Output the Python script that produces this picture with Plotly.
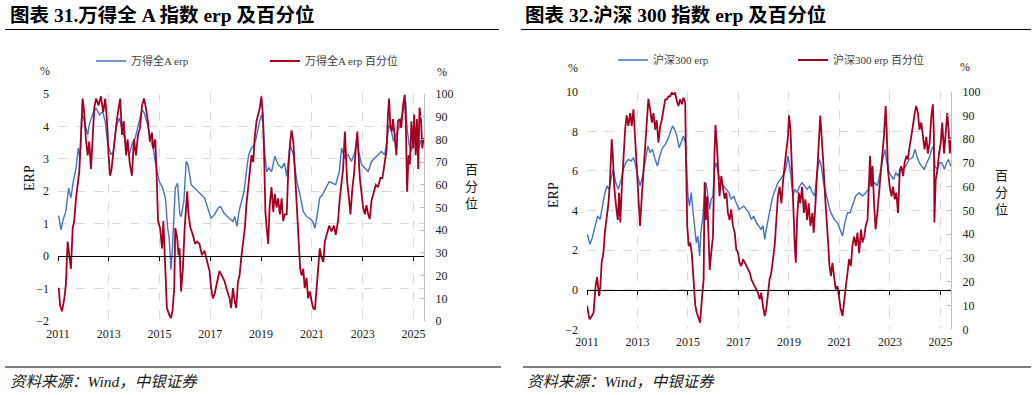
import plotly.graph_objects as go
import pandas as pd

W, H = 1036, 395

# ---------------- data (decimal year, value) ----------------
left_erp_t = [2011.00, 2011.03, 2011.08, 2011.12, 2011.20, 2011.31, 2011.42, 2011.51, 2011.60, 2011.71,
              2011.80, 2011.87, 2011.94, 2012.04, 2012.17, 2012.23, 2012.37, 2012.50, 2012.63, 2012.76,
              2012.86, 2012.96, 2013.09, 2013.18, 2013.28, 2013.41, 2013.52, 2013.61, 2013.70, 2013.81,
              2013.91, 2014.04, 2014.18, 2014.31, 2014.40, 2014.53, 2014.66, 2014.75, 2014.83, 2014.92,
              2014.99, 2015.12, 2015.23, 2015.32, 2015.38, 2015.45, 2015.51, 2015.62, 2015.71, 2015.80,
              2015.85, 2015.96, 2016.05, 2016.12, 2016.25, 2016.38, 2016.51, 2016.64, 2016.77, 2016.90,
              2017.03, 2017.17, 2017.30, 2017.40, 2017.54, 2017.67, 2017.80, 2017.89, 2017.96, 2018.05,
              2018.13, 2018.23, 2018.33, 2018.42, 2018.51, 2018.62, 2018.72, 2018.81, 2018.91, 2019.02,
              2019.08, 2019.15, 2019.22, 2019.31, 2019.41, 2019.54, 2019.67, 2019.81, 2019.92, 2020.01,
              2020.14, 2020.27, 2020.41, 2020.53, 2020.66, 2020.79, 2020.92, 2021.03, 2021.12, 2021.21,
              2021.31, 2021.42, 2021.55, 2021.68, 2021.81, 2021.94, 2022.08, 2022.17, 2022.30, 2022.43,
              2022.56, 2022.70, 2022.76, 2022.87, 2022.96, 2023.09, 2023.22, 2023.35, 2023.48, 2023.61,
              2023.74, 2023.87, 2023.96, 2024.04, 2024.13, 2024.22, 2024.33, 2024.43, 2024.52, 2024.62,
              2024.70, 2024.75, 2024.83, 2024.92, 2025.01, 2025.11, 2025.22, 2025.31, 2025.40]
left_erp_v = [1.25, 1.22, 1.00, 0.81, 1.12, 1.38, 2.10, 1.80, 2.30, 2.70,
              3.33, 3.00, 4.40, 4.15, 3.74, 4.05, 4.40, 4.57, 4.36, 4.46,
              4.15, 3.44, 3.13, 3.23, 3.95, 4.26, 3.95, 3.64, 3.38, 3.13,
              3.44, 3.64, 4.05, 4.52, 4.41, 4.05, 3.54, 3.33, 2.92, 2.50,
              2.30, 2.10, 1.80, 0.86, 0.56, -0.42, 0.25, 2.10, 2.25, 1.28,
              1.22, 1.70, 2.92, 2.82, 2.20, 2.10, 2.00, 1.90, 1.80, 1.48,
              1.17, 1.28, 1.48, 1.53, 1.33, 1.22, 1.12, 1.07, 1.22, 0.92,
              1.38, 1.70, 2.00, 2.60, 3.13, 3.33, 3.44, 3.64, 4.05, 4.36,
              4.15, 3.13, 2.60, 2.72, 2.60, 3.08, 2.82, 2.72, 2.87, 2.46,
              3.44, 3.13, 2.30, 1.90, 1.38, 1.22, 1.17, 1.07, 0.86, 1.28,
              1.80, 1.90, 2.10, 2.30, 2.25, 2.20, 2.60, 3.33, 3.02, 3.13,
              2.92, 3.23, 3.54, 3.13, 2.82, 2.72, 2.60, 2.92, 3.02, 3.13,
              3.23, 3.13, 3.54, 4.05, 3.85, 3.54, 3.74, 3.95, 4.26, 4.57,
              4.77, 3.95, 3.44, 3.23, 3.85, 3.95, 3.33, 3.64, 3.54]

left_pct_t = [2011.00, 2011.03, 2011.08, 2011.16, 2011.25, 2011.31, 2011.38, 2011.45, 2011.51, 2011.58,
              2011.64, 2011.71, 2011.77, 2011.84, 2011.90, 2011.97, 2012.04, 2012.10, 2012.17, 2012.23,
              2012.30, 2012.36, 2012.43, 2012.50, 2012.60, 2012.69, 2012.78, 2012.86, 2012.93, 2012.99,
              2013.05, 2013.11, 2013.22, 2013.31, 2013.39, 2013.45, 2013.52, 2013.59, 2013.68, 2013.74,
              2013.83, 2013.91, 2013.99, 2014.07, 2014.15, 2014.23, 2014.31, 2014.39, 2014.46, 2014.54,
              2014.62, 2014.70, 2014.75, 2014.83, 2014.88, 2014.94, 2015.02, 2015.10, 2015.15, 2015.20,
              2015.25, 2015.29, 2015.38, 2015.45, 2015.51, 2015.58, 2015.62, 2015.69, 2015.75, 2015.79,
              2015.85, 2015.92, 2015.99, 2016.05, 2016.09, 2016.14, 2016.22, 2016.31, 2016.40, 2016.48,
              2016.57, 2016.67, 2016.77, 2016.88, 2016.97, 2017.03, 2017.10, 2017.17, 2017.27, 2017.36,
              2017.45, 2017.56, 2017.67, 2017.76, 2017.82, 2017.89, 2017.96, 2018.02, 2018.09, 2018.15,
              2018.22, 2018.29, 2018.36, 2018.42, 2018.49, 2018.56, 2018.62, 2018.69, 2018.75, 2018.82,
              2018.88, 2018.95, 2019.01, 2019.07, 2019.12, 2019.17, 2019.22, 2019.28, 2019.34, 2019.41,
              2019.48, 2019.54, 2019.61, 2019.67, 2019.74, 2019.81, 2019.87, 2019.94, 2020.01, 2020.07,
              2020.14, 2020.20, 2020.27, 2020.33, 2020.40, 2020.47, 2020.54, 2020.60, 2020.66, 2020.72,
              2020.79, 2020.85, 2020.92, 2020.99, 2021.05, 2021.12, 2021.18, 2021.25, 2021.31, 2021.38,
              2021.45, 2021.51, 2021.58, 2021.68, 2021.78, 2021.87, 2021.94, 2022.03, 2022.10, 2022.17,
              2022.23, 2022.30, 2022.34, 2022.39, 2022.47, 2022.52, 2022.60, 2022.66, 2022.73, 2022.79,
              2022.84, 2022.89, 2022.96, 2023.02, 2023.09, 2023.15, 2023.22, 2023.28, 2023.35, 2023.41,
              2023.52, 2023.61, 2023.70, 2023.78, 2023.86, 2023.94, 2024.00, 2024.04, 2024.09, 2024.15,
              2024.20, 2024.26, 2024.33, 2024.39, 2024.46, 2024.52, 2024.59, 2024.66, 2024.70, 2024.75,
              2024.81, 2024.86, 2024.92, 2024.99, 2025.03, 2025.09, 2025.14, 2025.19, 2025.24, 2025.30,
              2025.35, 2025.40]
left_pct_v = [14, 14.5, 7, 4.3, 10, 16, 35, 29, 23, 41,
              44, 54, 60, 66, 80, 98, 91, 80, 73, 79,
              67, 80, 94, 98, 95, 99, 92, 98, 88, 73,
              64, 67, 80, 88, 94, 98, 82, 88, 73, 80,
              69, 64, 80, 73, 82, 85, 95, 98, 94, 88,
              79, 83, 76, 80, 66, 44, 41, 32, 44, 29,
              14.5, 5.7, 2.8, 1.3, 4.3, 14.5, 41, 37, 29, 32,
              13, 23, 41, 54, 57, 47, 41, 38, 34, 35,
              34, 29, 31, 26, 22, 14.5, 10, 12, 17.5, 22,
              20, 17.5, 13, 10, 5.7, 14.5, 8.7, 5.7, 17.5, 20,
              28, 35, 41, 51, 59, 66, 73, 70, 81, 88,
              91, 94, 99, 91, 73, 48, 41, 34, 51, 59,
              48, 56, 50, 54, 47, 54, 44, 47, 47, 66,
              78, 84, 79, 67, 54, 37, 23, 20, 23, 14.5,
              19, 10, 13, 8.7, 5.7, 5, 14.5, 26, 32, 28,
              26, 35, 38, 42, 39.5, 42, 38, 44, 54, 61.5,
              67, 83.5, 73, 61.5, 53, 47, 59, 64.5, 76, 83.5,
              73, 63, 56, 50, 47, 51, 47, 45, 53, 56,
              60, 59, 63, 63, 69, 75, 91, 98, 86.5, 83.5,
              89, 80.6, 73, 88, 89, 85, 95, 99.7, 88, 57,
              73, 69, 88, 76, 91, 73, 89, 67, 94, 88,
              76, 80.6]

right_erp_t = [2011.00, 2011.03, 2011.12, 2011.21, 2011.32, 2011.42, 2011.52, 2011.61, 2011.71, 2011.79,
               2011.87, 2011.95, 2012.04, 2012.14, 2012.24, 2012.35, 2012.44, 2012.53, 2012.64, 2012.75,
               2012.84, 2012.90, 2013.01, 2013.10, 2013.20, 2013.30, 2013.41, 2013.50, 2013.59, 2013.70,
               2013.79, 2013.88, 2013.99, 2014.10, 2014.20, 2014.29, 2014.39, 2014.47, 2014.56, 2014.65,
               2014.73, 2014.82, 2014.89, 2014.93, 2015.00, 2015.06, 2015.13, 2015.19, 2015.26, 2015.33,
               2015.39, 2015.44, 2015.46, 2015.51, 2015.58, 2015.66, 2015.72, 2015.79, 2015.86, 2015.92,
               2015.99, 2016.05, 2016.12, 2016.22, 2016.32, 2016.41, 2016.52, 2016.62, 2016.71, 2016.81,
               2016.91, 2017.02, 2017.11, 2017.21, 2017.31, 2017.41, 2017.51, 2017.60, 2017.71, 2017.81,
               2017.90, 2017.97, 2018.04, 2018.10, 2018.17, 2018.23, 2018.33, 2018.41, 2018.50, 2018.56,
               2018.66, 2018.74, 2018.83, 2018.90, 2018.96, 2019.03, 2019.10, 2019.16, 2019.23, 2019.32,
               2019.43, 2019.52, 2019.62, 2019.72, 2019.82, 2019.93, 2020.02, 2020.11, 2020.21, 2020.28,
               2020.37, 2020.48, 2020.58, 2020.66, 2020.79, 2020.92, 2021.03, 2021.12, 2021.21, 2021.32,
               2021.42, 2021.51, 2021.64, 2021.78, 2021.91, 2022.04, 2022.14, 2022.22, 2022.31, 2022.40,
               2022.50, 2022.61, 2022.70, 2022.80, 2022.88, 2022.97, 2023.06, 2023.14, 2023.23, 2023.32,
               2023.43, 2023.53, 2023.63, 2023.76, 2023.90, 2023.99, 2024.07, 2024.16, 2024.25, 2024.36,
               2024.46, 2024.56, 2024.65, 2024.73, 2024.78, 2024.86, 2024.96, 2025.05, 2025.16, 2025.24,
               2025.32, 2025.40, 2025.45]
right_erp_v = [2.80, 2.71, 2.29, 2.63, 3.20, 3.72, 3.55, 4.22, 4.90, 5.24,
               5.07, 5.57, 6.08, 5.40, 5.07, 5.57, 6.08, 6.41, 6.58, 6.50,
               6.67, 6.41, 5.74, 5.24, 5.74, 6.41, 7.26, 6.92, 7.09, 6.58,
               6.25, 6.75, 7.17, 7.34, 7.59, 7.93, 8.27, 8.10, 7.76, 7.17,
               7.42, 7.76, 7.42, 6.25, 4.73, 4.22, 4.90, 4.06, 3.22, 2.37,
               2.71, 2.04, 1.70, 2.88, 3.55, 4.90, 5.40, 4.73, 4.06, 4.56,
               4.73, 6.08, 6.41, 5.74, 5.40, 5.24, 5.07, 4.90, 4.56, 4.73,
               4.39, 4.06, 4.14, 4.22, 4.06, 3.89, 3.55, 3.72, 3.38, 3.22,
               3.05, 3.22, 2.54, 3.05, 3.55, 4.06, 4.56, 4.90, 5.24, 5.40,
               5.57, 5.74, 5.91, 6.25, 6.75, 6.25, 5.40, 4.73, 5.07, 4.90,
               5.24, 5.40, 5.24, 5.07, 5.24, 4.90, 4.73, 5.91, 6.58, 6.25,
               5.40, 4.73, 4.22, 3.89, 3.55, 3.38, 3.05, 2.71, 3.38, 3.89,
               3.89, 4.22, 4.73, 4.90, 4.73, 4.90, 5.07, 5.57, 5.24, 5.40,
               5.24, 5.91, 6.41, 7.09, 6.41, 5.91, 5.74, 5.57, 5.91, 5.74,
               6.08, 6.08, 6.25, 6.58, 6.67, 7.09, 6.75, 6.41, 6.25, 6.08,
               6.41, 6.67, 7.09, 7.26, 6.25, 6.08, 6.41, 6.41, 6.08, 6.41,
               6.58, 6.25, 6.33]

right_pct_t = [2011.00, 2011.03, 2011.10, 2011.19, 2011.26, 2011.34, 2011.40, 2011.48, 2011.53, 2011.58,
               2011.65, 2011.71, 2011.78, 2011.85, 2011.91, 2011.98, 2012.02, 2012.08, 2012.15, 2012.22,
               2012.27, 2012.32, 2012.38, 2012.44, 2012.51, 2012.57, 2012.64, 2012.71, 2012.77, 2012.84,
               2012.90, 2012.97, 2013.04, 2013.10, 2013.17, 2013.24, 2013.30, 2013.37, 2013.43, 2013.50,
               2013.57, 2013.63, 2013.70, 2013.76, 2013.83, 2013.90, 2013.96, 2014.03, 2014.10, 2014.16,
               2014.23, 2014.29, 2014.36, 2014.43, 2014.49, 2014.56, 2014.62, 2014.69, 2014.76, 2014.82,
               2014.89, 2014.93, 2014.97, 2015.03, 2015.09, 2015.15, 2015.22, 2015.29, 2015.35, 2015.42,
               2015.48, 2015.55, 2015.62, 2015.66, 2015.71, 2015.76, 2015.80, 2015.86, 2015.92, 2015.99,
               2016.05, 2016.09, 2016.14, 2016.20, 2016.25, 2016.32, 2016.38, 2016.45, 2016.52, 2016.58,
               2016.65, 2016.71, 2016.78, 2016.85, 2016.91, 2016.98, 2017.04, 2017.11, 2017.18, 2017.25,
               2017.31, 2017.38, 2017.45, 2017.51, 2017.58, 2017.64, 2017.71, 2017.77, 2017.84, 2017.90,
               2017.97, 2018.04, 2018.10, 2018.17, 2018.23, 2018.30, 2018.37, 2018.43, 2018.50, 2018.56,
               2018.63, 2018.70, 2018.77, 2018.83, 2018.90, 2018.96, 2019.00, 2019.06, 2019.11, 2019.16,
               2019.23, 2019.27, 2019.32, 2019.39, 2019.45, 2019.52, 2019.59, 2019.65, 2019.72, 2019.78,
               2019.85, 2019.93, 2019.98, 2020.05, 2020.12, 2020.19, 2020.24, 2020.30, 2020.36, 2020.43,
               2020.50, 2020.56, 2020.60, 2020.66, 2020.72, 2020.79, 2020.85, 2020.92, 2020.98, 2021.05,
               2021.12, 2021.18, 2021.25, 2021.32, 2021.38, 2021.45, 2021.51, 2021.58, 2021.65, 2021.71,
               2021.78, 2021.85, 2021.91, 2021.98, 2022.04, 2022.11, 2022.17, 2022.21, 2022.26, 2022.31,
               2022.37, 2022.43, 2022.50, 2022.56, 2022.63, 2022.70, 2022.76, 2022.83, 2022.87, 2022.92,
               2022.99, 2023.06, 2023.12, 2023.19, 2023.25, 2023.32, 2023.39, 2023.45, 2023.52, 2023.58,
               2023.65, 2023.71, 2023.78, 2023.85, 2023.91, 2023.98, 2024.04, 2024.11, 2024.17, 2024.24,
               2024.31, 2024.37, 2024.44, 2024.50, 2024.57, 2024.64, 2024.70, 2024.74, 2024.76, 2024.81,
               2024.88, 2024.94, 2025.01, 2025.07, 2025.14, 2025.20, 2025.27, 2025.32, 2025.37, 2025.43]
right_pct_v = [10, 8.4, 4.2, 5.6, 7, 18, 22, 14, 18, 28,
               32, 41, 46, 53, 62, 80, 74, 60, 52, 46,
               57.5, 45, 60, 74, 84, 90, 85.6, 91, 85.6, 92.6,
               81, 67, 53, 43.5, 56, 67, 81, 88, 97, 92.6,
               87, 91, 84, 88, 78.5, 85.6, 88, 92.6, 96.8, 96.8,
               98, 98, 99.6, 99, 99.6, 96, 94, 96.8, 94.7, 97.5,
               95.4, 67, 43.5, 35, 36.5, 32, 18, 10, 7, 4.2,
               2.8, 12.6, 21, 62, 46, 56, 43.5, 25, 32, 39,
               74, 86, 78.5, 63, 56, 64.5, 60, 55, 57.5, 49,
               46, 50.5, 43.5, 40.7, 33.7, 32.3, 28, 26.6, 29.5, 28,
               26.6, 25.2, 23.8, 21, 19.6, 18.2, 16.8, 15.4, 12.6, 15.4,
               9.8, 5.6, 8.4, 15.4, 21, 23.8, 29.5, 35, 46, 56,
               60, 53, 63, 70, 75.7, 81, 90, 84, 67, 49,
               35, 28, 46, 57.5, 53, 60, 49, 54.7, 46, 53,
               43.5, 49, 40.7, 53, 70, 80, 90, 81, 70, 56,
               46, 35, 27, 22.4, 28, 21, 16.8, 18.2, 12.6, 8.4,
               5.6, 12.6, 18, 24, 29.5, 26.6, 35, 39, 35, 40.7,
               32, 42, 36.5, 39, 43.5, 46, 60, 73, 60, 68.7,
               53, 42, 49, 57.5, 67, 74, 81, 94, 84, 67,
               60, 56, 60, 54.7, 57.5, 49, 67, 68.7, 64.5, 70,
               73, 71.5, 77, 81, 85.6, 91, 94, 91, 84, 87,
               80, 75.7, 81, 74, 78.5, 90, 94.7, 81, 45, 63,
               67, 74, 78.5, 87, 74, 81, 91, 84, 74, 81]

tick_years = [2011, 2013, 2015, 2017, 2019, 2021, 2023, 2025]
tick_labels = [str(y) for y in tick_years]

left_title = "图表 31.万得全 A 指数 erp 及百分位"
right_title = "图表 32.沪深 300 指数 erp 及百分位"
left_names = ["万得全A erp", "万得全A erp 百分位"]
right_names = ["沪深300 erp", "沪深300 erp 百分位"]
source_text = "资料来源：Wind，中银证券"

# ---------------- helpers ----------------
def to_dates(ts):
    out = []
    for t in ts:
        y = int(t)
        s = pd.Timestamp(year=y, month=1, day=1)
        e = pd.Timestamp(year=y + 1, month=1, day=1)
        out.append(s + (e - s) * (t - y))
    return out

def fx(px):
    return px / W

def fy(py):
    return 1 - py / H

BLUE = "#4472C4"
RED = "#A50021"
GRID = "#d9d9d9"
TXT = "#1a1a1a"
SERIF = "'Times New Roman', 'Liberation Serif', 'Noto Sans CJK SC', serif"

tickvals = [pd.Timestamp(year=y, month=1, day=1) for y in tick_years]
x_range = [pd.Timestamp("2011-01-01"), pd.Timestamp("2025-06-02")]

panels = [
    dict(px0=58, px1=424, ptop=94, pbot=321, ax="", ay=("", "2"), az="3",
         erp_t=left_erp_t, erp_v=left_erp_v, pct_t=left_pct_t, pct_v=left_pct_v,
         names=left_names, yr=[-2, 5], ydt=1, legs=("legend", "legend2"),
         leg_x=(131, 305), leg_y=61),
    dict(px0=587, px1=951, ptop=91.7, pbot=329.3, ax="2", ay=("3", "4"), az="4",
         erp_t=right_erp_t, erp_v=right_erp_v, pct_t=right_pct_t, pct_v=right_pct_v,
         names=right_names, yr=[-2, 10], ydt=2, legs=("legend3", "legend4"),
         leg_x=(653, 833), leg_y=60),
]

fig = go.Figure()
layout = dict(width=W, height=H, margin=dict(l=0, r=0, t=0, b=0),
              paper_bgcolor="white", plot_bgcolor="white",
              font=dict(family=SERIF, size=12, color=TXT), showlegend=True)

for p in panels:
    xd = [fx(p["px0"]), fx(p["px1"])]
    yd = [fy(p["pbot"]), fy(p["ptop"])]
    xa = "x" + p["ax"]
    ya1 = "y" + p["ay"][0]
    ya2 = "y" + p["ay"][1]
    xz = "x" + p["az"]
    xkey = "xaxis" + p["ax"]
    y1key = "yaxis" + p["ay"][0]
    y2key = "yaxis" + p["ay"][1]
    zkey = "xaxis" + p["az"]

    fig.add_trace(go.Scatter(x=to_dates(p["erp_t"]), y=p["erp_v"], name=p["names"][0], mode="lines",
                             line=dict(color=BLUE, width=1.4), xaxis=xa, yaxis=ya1,
                             legend=p["legs"][0], hoverinfo="skip"))
    fig.add_trace(go.Scatter(x=to_dates(p["pct_t"]), y=p["pct_v"], name=p["names"][1], mode="lines",
                             line=dict(color=RED, width=1.8), xaxis=xa, yaxis=ya2,
                             legend=p["legs"][1], hoverinfo="skip"))
    # carrier for the zero-line axis
    fig.add_trace(go.Scatter(x=[None], y=[None], xaxis=xz, yaxis=ya1, showlegend=False,
                             hoverinfo="skip"))

    layout[xkey] = dict(domain=xd, anchor=ya1, type="date", range=x_range,
                        tickvals=tickvals, ticktext=tick_labels, ticks="",
                        showline=False, showgrid=True, gridcolor=GRID, griddash="dash",
                        gridwidth=1, zeroline=False, tickfont=dict(size=12, family=SERIF, color=TXT),
                        ticklabelstandoff=4, automargin=False)
    layout[y1key] = dict(domain=yd, anchor=xa, range=p["yr"], dtick=p["ydt"], tick0=0,
                         showgrid=True, gridcolor=GRID, griddash="dash", gridwidth=1,
                         zeroline=False, showline=False, ticks="",
                         tickfont=dict(size=12, family=SERIF, color=TXT),
                         ticklabelstandoff=8, automargin=False)
    layout[y2key] = dict(domain=yd, anchor=xa, overlaying=ya1, side="right", range=[0, 100],
                         dtick=10, showgrid=False, zeroline=False, showline=True,
                         linecolor="#bfbfbf", linewidth=1, ticks="inside", ticklen=4,
                         tickcolor="#bfbfbf", tickfont=dict(size=12, family=SERIF, color=TXT),
                         ticklabelstandoff=8, automargin=False)
    zero_pos = yd[0] + (0 - p["yr"][0]) / (p["yr"][1] - p["yr"][0]) * (yd[1] - yd[0])
    layout[zkey] = dict(overlaying=xa, anchor="free", position=zero_pos, type="date",
                        range=x_range, tickvals=tickvals, showticklabels=False,
                        showgrid=False, zeroline=False, showline=True, linecolor="black",
                        linewidth=1.2, ticks="outside", ticklen=4, tickcolor="black",
                        tickwidth=1, automargin=False)
    for lg, lx in zip(p["legs"], p["leg_x"]):
        layout[lg] = dict(x=fx(lx - 40), y=fy(p["leg_y"]), xanchor="left",
                          yanchor="middle", orientation="h", bgcolor="rgba(0,0,0,0)",
                          font=dict(size=11, family=SERIF, color="#404040"))

fig.update_layout(**layout)

ann = []
def add_text(x, y, text, size=12, xanchor="center", yanchor="middle", textangle=0,
             bold=False, italic=False, color=TXT):
    ann.append(dict(x=fx(x), y=fy(y), xref="paper", yref="paper", text=text, showarrow=False,
                    xanchor=xanchor, yanchor=yanchor, textangle=textangle,
                    font=dict(size=size, family=SERIF, color=color,
                              weight="bold" if bold else "normal",
                              style="italic" if italic else "normal")))

# titles
add_text(8, 15, left_title, size=19.5, xanchor="left", bold=True, color="black")
add_text(523, 15, right_title, size=19.5, xanchor="left", bold=True, color="black")
# unit labels
add_text(45, 71, "%")
add_text(442, 72, "%")
add_text(573, 68, "%")
add_text(965, 67, "%")
# axis titles
add_text(30, 178, "ERP", size=14, textangle=-90)
add_text(553, 195, "ERP", size=14, textangle=-90)
add_text(471, 186, "百<br>分<br>位", size=13)
add_text(1001, 193, "百<br>分<br>位", size=13)
# source
add_text(8, 381, source_text, size=15.5, xanchor="left", italic=True)
add_text(525, 381, source_text, size=15.5, xanchor="left", italic=True)

shapes = []
for (a, b) in [(5, 499), (521, 1031)]:
    shapes.append(dict(type="line", xref="paper", yref="paper", x0=fx(a), x1=fx(b),
                       y0=fy(29.5), y1=fy(29.5), line=dict(color="black", width=1)))
for (a, b) in [(5, 501), (523, 1031)]:
    shapes.append(dict(type="line", xref="paper", yref="paper", x0=fx(a), x1=fx(b),
                       y0=fy(367), y1=fy(367), line=dict(color="#7f7f7f", width=2)))

fig.update_layout(annotations=ann, shapes=shapes)
fig.write_html("out.html", config={"displayModeBar": False},
               post_script="document.body.style.margin='0px';")
